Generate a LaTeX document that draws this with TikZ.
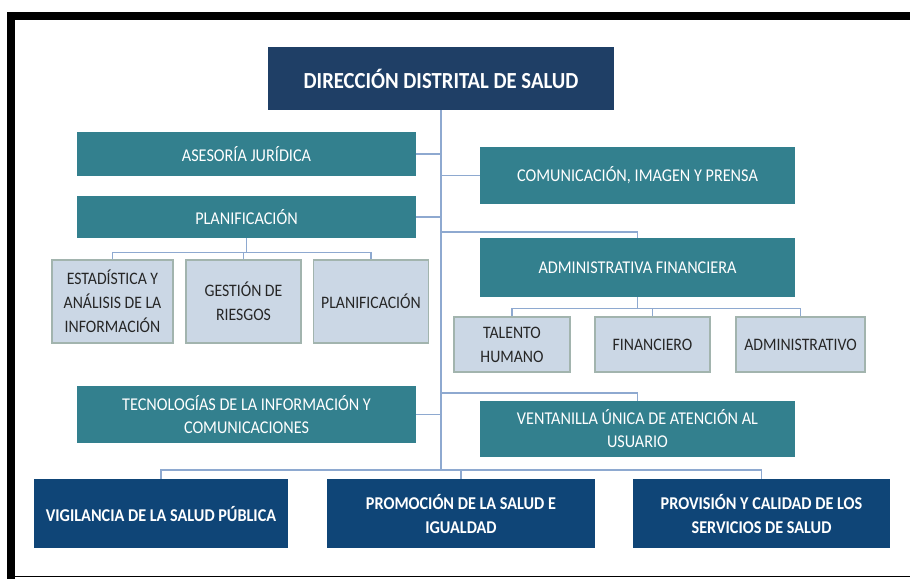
\documentclass[tikz,border=0pt]{standalone}
\usepackage{fontspec}
\setmainfont{Carlito}[FakeStretch=0.9]
\definecolor{azulosc}{HTML}{1F3F66}
\definecolor{azulinf}{HTML}{0F4577}
\definecolor{verdeaz}{HTML}{33808E}
\definecolor{celeste}{HTML}{CBD7E5}
\definecolor{bordegr}{HTML}{A2B4AE}
\definecolor{lineaz}{HTML}{8EA9D0}

\begin{document}
\begin{tikzpicture}[x=1pt,y=-1pt,
  direccion/.style={fill=azulosc,text=white,font=\bfseries\fontsize{23}{27}\selectfont,align=center,inner sep=0pt},
  gestion/.style={fill=azulinf,text=white,font=\bfseries\fontsize{18}{24}\selectfont,align=center,inner sep=0pt},
  unidad/.style={fill=verdeaz,text=white,font=\fontsize{18}{23}\selectfont,align=center,inner sep=0pt},
  subunidad/.style={fill=celeste,draw=bordegr,line width=1.2pt,text=black!85,font=\fontsize{17.5}{24}\selectfont,align=center,inner sep=0pt},
  linea/.style={draw=lineaz,line width=1.6pt}]
\useasboundingbox (0,0) rectangle (910,579);
\fill[black] (7,12) rectangle (910,20);
\fill[black] (7,12) rectangle (15,579);
\draw[black,line width=1.5pt] (7,576.5) -- (910,576.5);

\node[direccion,minimum width=346pt,minimum height=63pt] (dir) at (441,78.5) {DIRECCIÓN DISTRITAL DE SALUD};
\node[unidad,minimum width=339pt,minimum height=44pt] (ase) at (246.5,154) {ASESORÍA JURÍDICA};
\node[unidad,minimum width=315pt,minimum height=57pt] (com) at (637.5,175.5) {COMUNICACIÓN, IMAGEN Y PRENSA};
\node[unidad,minimum width=339pt,minimum height=42pt] (pla) at (246.5,217) {PLANIFICACIÓN};
\node[subunidad,minimum width=121pt,minimum height=83pt] (est) at (112.5,301.5) {ESTADÍSTICA Y\\ANÁLISIS DE LA\\INFORMACIÓN};
\node[subunidad,minimum width=115pt,minimum height=83pt] (ges) at (243.5,301.5) {GESTIÓN DE\\RIESGOS};
\node[subunidad,minimum width=115pt,minimum height=83pt] (plb) at (371,301.5) {PLANIFICACIÓN};
\node[unidad,minimum width=315pt,minimum height=59pt] (adm) at (637.5,267.5) {ADMINISTRATIVA FINANCIERA};
\node[subunidad,minimum width=116pt,minimum height=55pt] (tal) at (512,344.5) {TALENTO\\HUMANO};
\node[subunidad,minimum width=115pt,minimum height=55pt] (fin) at (652.5,344.5) {FINANCIERO};
\node[subunidad,minimum width=129pt,minimum height=55pt] (admv) at (800.5,344.5) {ADMINISTRATIVO};
\node[unidad,minimum width=339pt,minimum height=57pt] (tec) at (246.5,414.5) {TECNOLOGÍAS DE LA INFORMACIÓN Y\\COMUNICACIONES};
\node[unidad,minimum width=315pt,minimum height=56pt] (ven) at (637.5,429) {VENTANILLA ÚNICA DE ATENCIÓN AL\\USUARIO};
\node[gestion,minimum width=254pt,minimum height=69pt] (vig) at (161,513.5) {VIGILANCIA DE LA SALUD PÚBLICA};
\node[gestion,minimum width=268pt,minimum height=69pt] (pro) at (461,513.5) {PROMOCIÓN DE LA SALUD E\\IGUALDAD};
\node[gestion,minimum width=257pt,minimum height=69pt] (prv) at (761.5,513.5) {PROVISIÓN Y CALIDAD DE LOS\\SERVICIOS DE SALUD};

\coordinate (bus) at (441,470);
\coordinate (c1) at (441,232);
\coordinate (c2) at (441,393);
\draw[linea] (dir.south) -- (bus);
\draw[linea] (ase.east) -- (ase.east -| dir.south);
\draw[linea] (com.west) -- (com.west -| dir.south);
\draw[linea] (pla.east) -- (pla.east -| dir.south);
\draw[linea] (tec.east) -- (tec.east -| dir.south);
\draw[linea] (adm.north) |- (c1);
\draw[linea] (ven.north) |- (c2);
\draw[linea] (vig.north) -- ++(0,-9) -| (prv.north);
\draw[linea] (pro.north) -- ++(0,-9);
\draw[linea] (pla.south) -- ++(0,15);
\draw[linea] (est.north) -- ++(0,-7) -| (plb.north);
\draw[linea] (ges.north) -- ++(0,-7);
\draw[linea] (adm.south) -- ++(0,12);
\draw[linea] (tal.north) -- ++(0,-8) -| (admv.north);
\draw[linea] (fin.north) -- ++(0,-8);
\end{tikzpicture}
\end{document}
